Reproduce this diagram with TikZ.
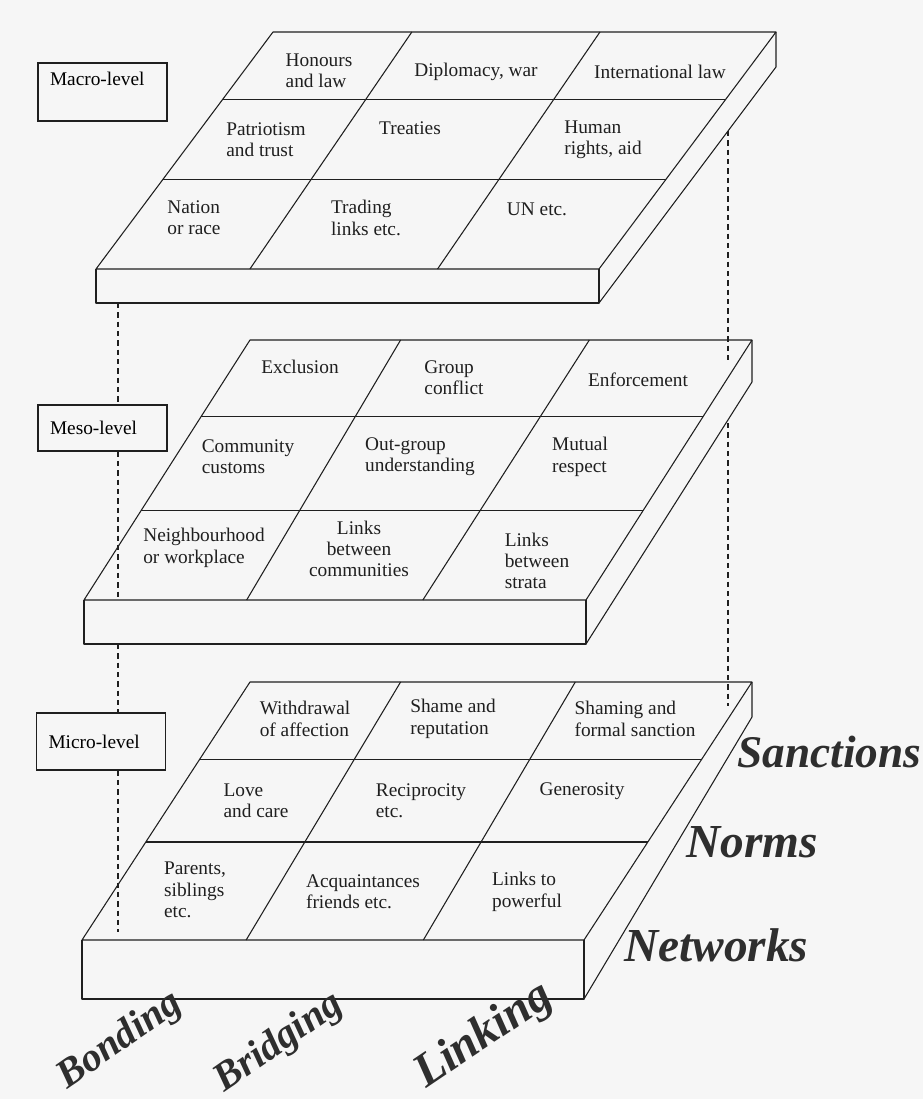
\documentclass[tikz,border=0pt]{standalone}
\usepackage{fontspec}
\setmainfont{Liberation Serif}
\usetikzlibrary{calc}
\usetikzlibrary{positioning}

\definecolor{paper}{gray}{0.965}
\definecolor{ink}{gray}{0.12}

\begin{document}
\begin{tikzpicture}[
  x=0.75pt, y=-0.75pt,
  font=\fontsize{14.5}{16}\selectfont,
  edge/.style={line width=0.8pt, draw=ink, line join=round},
  guide/.style={line width=0.9pt, draw=ink, dash pattern=on 4pt off 3pt},
  levelbox/.style={draw=ink, line width=0.8pt, minimum width=96.75pt, text width=78.75pt,
    align=left, inner xsep=9pt, inner ysep=0pt},
  cell/.style={align=left, inner sep=0pt, text=ink},
  dimlabel/.style={font=\fontsize{#1}{#1}\selectfont\bfseries\itshape, text=black!82, inner sep=0pt},
  dimlabel/.default=34
]
\useasboundingbox[fill=paper] (0,0) rectangle (923,1099);

% Slabs: back-left, front-left, width, front and side thickness, row and column fractions
\foreach \s/\bx/\by/\fx/\fy/\w/\fh/\sh/\ra/\rb/\ca/\cb/\cc/\cd in {
    ma/273/32/96/269/503/34/35/0.283/0.624/0.276/0.306/0.650/0.679,
    me/250/340/84/600/502/44/42/0.296/0.654/0.300/0.324/0.676/0.675,
    mi/250/682/82/940/502/59/35/0.302/0.620/0.300/0.327/0.648/0.680}
{
  \coordinate (\s-bl) at (\bx,\by);
  \coordinate (\s-br) at (\bx+\w,\by);
  \coordinate (\s-fl) at (\fx,\fy);
  \coordinate (\s-fr) at (\fx+\w,\fy);
  \coordinate (\s-fb) at (\fx,\fy+\fh);
  % top face, front face, right side
  \draw[edge] (\s-bl) -- (\s-br) -- (\s-fr) -- (\s-fl) -- cycle;
  \draw[edge] (\s-fl) -- (\s-fb) -- ++(\w,0) -- (\s-fr);
  \draw[edge] (\s-br) -- ++(0,\sh) -- ($(\s-fr)+(0,\fh)$);
  % grid on the top face
  \foreach \f in {\ra,\rb}
    \draw[edge] ($(\s-bl)!\f!(\s-fl)$) -- ($(\s-br)!\f!(\s-fr)$);
  \foreach \b/\f in {\ca/\cb,\cc/\cd}
    \draw[edge] ($(\s-bl)!\b!(\s-br)$) -- ($(\s-fl)!\f!(\s-fr)$);
}

% Level boxes
\node[levelbox, minimum height=43.5pt, text height=10pt, text depth=20.5pt] (macro) at (102.5,92) {Macro-level};
\node[levelbox, minimum height=34.5pt] (meso) at (102.5,428) {Meso-level};
\node[levelbox, minimum height=42.75pt] (micro) at (101,741.5) {Micro-level};

% Dashed guides
\coordinate (gl) at (118,0);
\draw[guide] (ma-fb -| gl) -- (meso.north -| gl);
\draw[guide] (meso.south -| gl) -- (me-fl -| gl);
\draw[guide] (me-fb -| gl) -- (micro.north -| gl);
\draw[guide] (micro.south -| gl) -- (118,932);
\draw[guide] (728,131) -- (728,362);
\draw[guide] (728,423) -- (728,706);

% Macro cells
\node[cell] (honours) at (319,71) {Honours\\and law};
\node[cell] (diplomacy) at (476,72) {Diplomacy, war};
\node[cell] (intlaw) at (660,72) {International law};
\node[cell] (patriot) at (266,140) {Patriotism\\and trust};
\node[cell] (treaties) at (410,128) {Treaties};
\node[cell] (rights) at (603,140) {Human\\rights, aid};
\node[cell] (nation) at (194,218) {Nation\\or race};
\node[cell] (trading) at (366,218) {Trading\\links etc.};
\node[cell] (un) at (537,209) {UN etc.};

% Meso cells
\node[cell] (exclusion) at (300,367) {Exclusion};
\node[cell] (conflict) at (454,378) {Group\\conflict};
\node[cell] (enforce) at (638,380) {Enforcement};
\node[cell] (customs) at (248,457) {Community\\customs};
\node[cell] (outgroup) at (420,457) {Out-group\\understanding};
\node[cell] (respect) at (580,457) {Mutual\\respect};
\node[cell] (neighb) at (204,548) {Neighbourhood\\or workplace};
\node[cell, align=center] (commlinks) at (359,549) {Links\\between\\communities};
\node[cell] (stratalinks) at (537,561) {Links\\between\\strata};

% Micro cells
\node[cell] (withdraw) at (305,719) {Withdrawal\\of affection};
\node[cell] (shame) at (453,719) {Shame and\\reputation};
\node[cell] (sanction) at (635,719) {Shaming and\\formal sanction};
\node[cell] (love) at (256,801) {Love\\and care};
\node[cell] (recip) at (421,801) {Reciprocity\\etc.};
\node[cell] (generous) at (582,791) {Generosity};
\node[cell] (parents) at (195,890) {Parents,\\siblings\\etc.};
\node[cell] (acquaint) at (363,892) {Acquaintances\\friends etc.};
\node[cell] (powerful) at (527,892) {Links to\\powerful};

% Dimensions
\node[dimlabel, anchor=base west] (sanctions) at (737,767) {Sanctions};
\node[dimlabel=35.5, anchor=base west] (norms) at (686,857) {Norms};
\node[dimlabel=35.5, anchor=base west] (networks) at (624,961) {Networks};
\node[dimlabel=30, rotate=35] (bonding) at (120,1041) {Bonding};
\node[dimlabel=30, rotate=35] (bridging) at (279,1043) {Bridging};
\node[dimlabel=35.5, rotate=34] (linking) at (484,1036) {Linking};

\end{tikzpicture}
\end{document}
